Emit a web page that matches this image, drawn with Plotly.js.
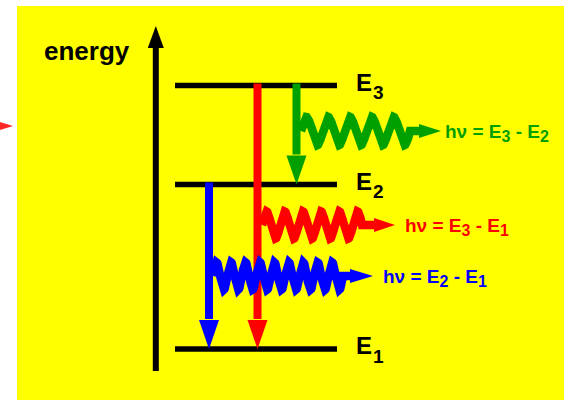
<!DOCTYPE html>
<html>
<head>
<meta charset="utf-8">
<script src="https://cdn.plot.ly/plotly-3.0.1.min.js"></script>
<style>
  html, body { margin: 0; padding: 0; background: #ffffff; }
  #chart { width: 564px; height: 400px; }
</style>
</head>
<body>
<div id="chart"></div>
<script>
// ---------------- data ----------------
// energy levels (arbitrary units, measured upward)
const levelSubscripts = ['1', '2', '3'];
const levelEnergies = [51, 215.5, 314.5];

// transitions (index into levels): from -> to
const transitionFrom = [1, 2, 2];   // blue E2->E1, red E3->E1, green E3->E2
const transitionTo   = [0, 0, 1];

// emitted photon labels
const photonLabels = [
  'h\u03bd = E<sub><span style="font-size:1.2em">2</span></sub> - E<sub><span style="font-size:1.2em">1</span></sub>',
  'h\u03bd = E<sub><span style="font-size:1.2em">3</span></sub> - E<sub><span style="font-size:1.2em">1</span></sub>',
  'h\u03bd = E<sub><span style="font-size:1.2em">3</span></sub> - E<sub><span style="font-size:1.2em">2</span></sub>'
];
const axisLabel = 'energy';

// ---------------- style / layout ----------------
const FONT = 'Liberation Sans, Arial, Helvetica, sans-serif';
const transColors = ['#0000ff', '#ff0000', '#00a000'];
const transX = [209, 257.5, 296.5];
const levelX = [175, 337];
// photon drawing params: wave start/end x, periods, amplitude, centre (energy units), line end, head end, text x
const photonStyle = [
  {x0: 213, x1: 343, n: 9,   amp: 13.5, yc: 124, lineEnd: 352, headEnd: 373, hh: 7, tx: 381},
  {x0: 262, x1: 362, n: 5.5, amp: 13.5, yc: 175, lineEnd: 376, headEnd: 395, hh: 7, tx: 403},
  {x0: 301, x1: 410, n: 5,   amp: 14,   yc: 269, lineEnd: 421, headEnd: 441, hh: 7, tx: 443}
];

const traces = [];
const annotations = [];

// energy axis arrow
traces.push({x: [155.8, 155.8], y: [29, 353], mode: 'lines', line: {color: '#000', width: 6}, hoverinfo: 'skip'});
traces.push({x: [147.8, 163.8, 155.8, 147.8], y: [352, 352, 374, 352], mode: 'lines', fill: 'toself',
  fillcolor: '#000', line: {color: '#000', width: 0}, hoverinfo: 'skip'});

// levels
levelEnergies.forEach((e, i) => {
  traces.push({x: levelX, y: [e, e], mode: 'lines', line: {color: '#000', width: 5.5}, hoverinfo: 'skip'});
  annotations.push({x: 354, y: e + 3.5, xref: 'x', yref: 'y', xanchor: 'left', yanchor: 'middle', showarrow: false,
    text: 'E', font: {family: FONT, size: 24, color: '#000', weight: 'bold'}});
  annotations.push({x: 371, y: e - 7, xref: 'x', yref: 'y', xanchor: 'left', yanchor: 'middle', showarrow: false,
    text: levelSubscripts[i], font: {family: FONT, size: 19, color: '#000', weight: 'bold'}});
});

// transition arrows
const headLen = 29, headHalf = 10;
transitionFrom.forEach((f, i) => {
  const eF = levelEnergies[f] + 2, eT = levelEnergies[transitionTo[i]];
  const x = transX[i], c = transColors[i];
  traces.push({x: [x, x], y: [eF, eT + headLen + 1], mode: 'lines', line: {color: c, width: 8}, hoverinfo: 'skip'});
  traces.push({x: [x - headHalf, x + headHalf, x, x - headHalf], y: [eT + headLen, eT + headLen, eT, eT + headLen],
    mode: 'lines', fill: 'toself', fillcolor: c, line: {color: c, width: 0}, hoverinfo: 'skip'});
});

// photons
photonStyle.forEach((p, i) => {
  const c = transColors[i];
  const wx = [], wy = [];
  const N = 400;
  for (let k = 0; k <= N; k++) {
    const t = k / N;
    wx.push(p.x0 + (p.x1 - p.x0) * t);
    wy.push(p.yc + p.amp * Math.sin(2 * Math.PI * p.n * t));
  }
  wx.push(p.lineEnd); wy.push(p.yc);
  traces.push({x: wx, y: wy, mode: 'lines', line: {color: c, width: 8.5}, hoverinfo: 'skip'});
  traces.push({x: [p.lineEnd - 2, p.headEnd, p.lineEnd - 2, p.lineEnd - 2], y: [p.yc + p.hh, p.yc, p.yc - p.hh, p.yc + p.hh],
    mode: 'lines', fill: 'toself', fillcolor: c, line: {color: c, width: 0}, hoverinfo: 'skip'});
  annotations.push({x: p.tx, y: p.yc - 2, xref: 'x', yref: 'y', xanchor: 'left', yanchor: 'middle', showarrow: false,
    text: photonLabels[i], font: {family: FONT, size: 19, color: c, weight: 'bold'}});
});

// axis label
annotations.push({x: 42, y: 349, xref: 'x', yref: 'y', xanchor: 'left', yanchor: 'middle', showarrow: false,
  text: axisLabel, font: {family: FONT, size: 26, color: '#000', weight: 'bold'}});

const layout = {
  width: 564, height: 400,
  margin: {l: 17, r: 0, t: 6, b: 0, pad: 0},
  paper_bgcolor: '#ffffff', plot_bgcolor: '#ffff00',
  showlegend: false,
  xaxis: {range: [17, 564], visible: false, fixedrange: true},
  yaxis: {range: [0, 394], visible: false, fixedrange: true},
  annotations: annotations,
  shapes: [{type: 'path', xref: 'paper', yref: 'paper', layer: 'above',
    path: 'M -0.0311 0.7056 L -0.0073 0.6954 L -0.0311 0.6853 Z',
    fillcolor: 'rgba(255,0,0,0.85)', line: {width: 0}}]
};

Plotly.newPlot('chart', traces, layout, {displayModeBar: false, staticPlot: true});
</script>
</body>
</html>
